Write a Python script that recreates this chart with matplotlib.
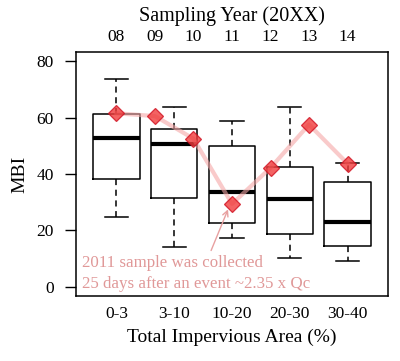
import numpy as np
import matplotlib; matplotlib.use("Agg")
import matplotlib.pyplot as plt

plt.rcParams["font.family"] = ["Liberation Serif", "DejaVu Serif"]

# ---- data ------------------------------------------------------------------------------------
tia = ["0-3", "3-10", "10-20", "20-30", "30-40"]
wlo = [24.8, 14.1, 17.2, 10.1, 9.2]
q1 = [38.3, 31.4, 22.6, 18.8, 14.4]
med = [52.9, 50.6, 33.8, 31.2, 23.0]
q3 = [61.4, 55.9, 50.0, 42.6, 37.1]
whi = [73.7, 63.8, 58.8, 63.8, 44.0]

years = ["08", "09", "10", "11", "12", "13", "14"]
mbi_year = [61.5, 60.5, 52.5, 29.4, 42.2, 57.5, 43.7]

stats = [dict(whislo=a, q1=b, med=c, q3=d, whishi=e, fliers=[])
         for a, b, c, d, e in zip(wlo, q1, med, q3, whi)]

fig = plt.figure(figsize=(4.0, 3.61), dpi=100)
ax = fig.add_axes([76/400, 1-296/361, 312/400, 244/361])
pos = np.arange(1, len(tia)+1)
ax.bxp(stats, positions=pos, widths=0.8, capwidths=0.4, showfliers=False,
       boxprops=dict(color="black", lw=1.1),
       medianprops=dict(color="black", lw=3, solid_capstyle="butt"),
       whiskerprops=dict(color="black", lw=1.1, ls=(0, (4, 3))),
       capprops=dict(color="black", lw=1.1))

ypos = np.linspace(1, 5, len(years))
ax.plot(ypos, mbi_year, "-", color="#f5a8a8", lw=3, alpha=0.6, zorder=3)
ax.plot(ypos, mbi_year, "D", ms=8, mfc="#f03c3c", mec="#d01020", mew=0.9, alpha=0.8, ls="none", zorder=4)

ax.annotate("", xy=(2.95, 28.4), xytext=(2.62, 12.0),
            arrowprops=dict(arrowstyle="->", color="#e8a0a0", lw=1.0), zorder=2)
ax.text(0.40, 6.9, "2011 sample was collected", color="#e09898", fontsize=12.2, va="baseline")
ax.text(0.40, -0.5, "25 days after an event ~2.35 x Qc", color="#e09898", fontsize=12.2, va="baseline")

ax.set_xlim(0.3, 5.7); ax.set_ylim(-3.2, 83.2)
ax.set_yticks([0, 20, 40, 60, 80])
ax.set_xticks(pos); ax.set_xticklabels(tia)
ax.tick_params(axis="both", labelsize=12.5, width=1)
ax.tick_params(axis="y", length=8, pad=8)
ax.tick_params(axis="x", length=0, pad=7)
ax.set_xlabel("Total Impervious Area (%)", fontsize=14, labelpad=5)
ax.set_ylabel("MBI", fontsize=14, labelpad=6)
for s in ax.spines.values(): s.set_linewidth(1.1)

top = ax.secondary_xaxis("top")
top.set_xticks(ypos); top.set_xticklabels(years)
top.tick_params(length=0, labelsize=12.5, pad=5)
top.spines["top"].set_visible(False)
top.set_xlabel("Sampling Year (20XX)", fontsize=14.5, labelpad=6)

fig.savefig("out.png", dpi=100)
